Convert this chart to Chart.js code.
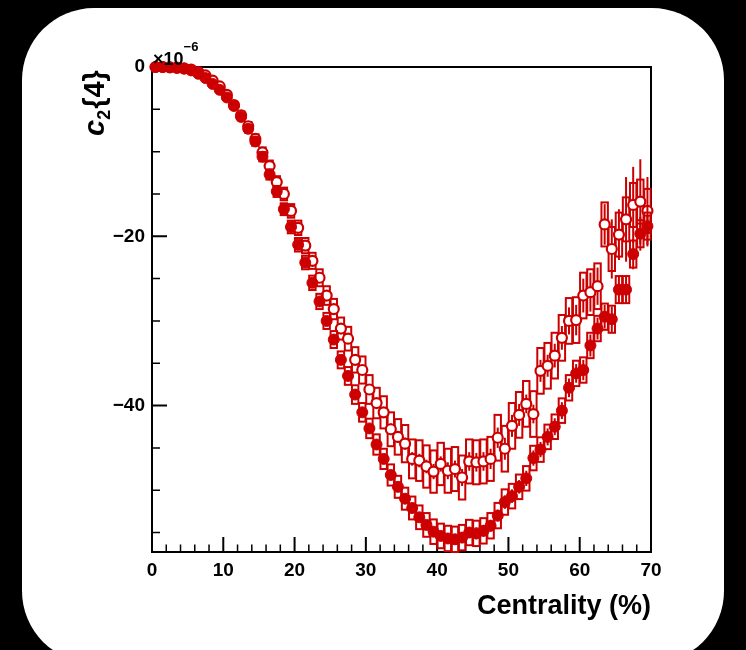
<!DOCTYPE html>
<html>
<head>
<meta charset="utf-8">
<script src="https://cdn.jsdelivr.net/npm/chart.js@4.4.1/dist/chart.umd.min.js"></script>
<style>
  html, body { margin: 0; padding: 0; background: #000; overflow: hidden; }
  #card { position: absolute; left: 22px; top: 8px; width: 702px; height: 655px; background: #fff; border-radius: 72px; }
  #c_chart { position: absolute; left: 0; top: 0; }
</style>
</head>
<body>
<div id="card"></div>
<canvas id="c_chart" width="746" height="650"></canvas>
<script>
// bin centres (centrality %)
const centrality = [
  0.5, 1.5, 2.5, 3.5, 4.5, 5.5, 6.5, 7.5, 8.5, 9.5,
  10.5, 11.5, 12.5, 13.5, 14.5, 15.5, 16.5, 17.5, 18.5, 19.5,
  20.5, 21.5, 22.5, 23.5, 24.5, 25.5, 26.5, 27.5, 28.5, 29.5,
  30.5, 31.5, 32.5, 33.5, 34.5, 35.5, 36.5, 37.5, 38.5, 39.5,
  40.5, 41.5, 42.5, 43.5, 44.5, 45.5, 46.5, 47.5, 48.5, 49.5,
  50.5, 51.5, 52.5, 53.5, 54.5, 55.5, 56.5, 57.5, 58.5, 59.5,
  60.5, 61.5, 62.5, 63.5, 64.5, 65.5, 66.5, 67.5, 68.5, 69.5
];

// c2{4} x 1e6, filled markers
const filledVals = [
  0.0, 0.0, -0.05, -0.1, -0.2, -0.4, -0.8, -1.3, -2.0, -2.7,
  -3.6, -4.6, -5.9, -7.3, -8.8, -10.6, -12.7, -14.7, -16.8, -18.9,
  -21.0, -23.1, -25.5, -27.7, -30.0, -32.2, -34.6, -36.5, -38.7, -40.8,
  -42.7, -44.6, -46.3, -48.2, -49.6, -51.0, -52.1, -53.2, -54.1, -54.9,
  -55.4, -55.7, -55.8, -55.6, -55.0, -55.1, -54.8, -54.2, -53.0, -51.4,
  -50.7, -49.6, -48.6, -46.2, -45.2, -43.7, -42.5, -40.6, -37.9, -36.2,
  -35.8, -32.9, -30.9, -29.5, -29.8, -26.3, -26.3, -22.1, -19.7, -18.8
];
const filledSys = [
  0.05, 0.05, 0.05, 0.05, 0.05, 0.1, 0.1, 0.15, 0.2, 0.25,
  0.3, 0.35, 0.4, 0.45, 0.5, 0.55, 0.6, 0.65, 0.7, 0.75,
  0.8, 0.8, 0.85, 0.9, 0.95, 1.0, 1.0, 1.05, 1.1, 1.1,
  1.15, 1.2, 1.2, 1.25, 1.3, 1.3, 1.35, 1.4, 1.4, 1.45,
  1.45, 1.5, 1.5, 1.5, 1.5, 1.5, 1.5, 1.5, 1.5, 1.5,
  1.45, 1.45, 1.45, 1.45, 1.45, 1.45, 1.45, 1.45, 1.5, 1.5,
  1.5, 1.5, 1.5, 1.55, 1.6, 1.6, 1.6, 1.6, 1.6, 1.6
];
const filledStat = [
  0.0, 0.0, 0.0, 0.0, 0.0, 0.0, 0.0, 0.0, 0.0, 0.0,
  0.1, 0.1, 0.1, 0.1, 0.1, 0.1, 0.1, 0.1, 0.2, 0.2,
  0.2, 0.2, 0.2, 0.2, 0.3, 0.3, 0.3, 0.3, 0.3, 0.3,
  0.4, 0.4, 0.4, 0.4, 0.4, 0.5, 0.5, 0.5, 0.5, 0.5,
  0.6, 0.6, 0.6, 0.6, 0.6, 0.7, 0.7, 0.7, 0.7, 0.8,
  0.8, 0.8, 0.9, 0.9, 0.9, 1.0, 1.0, 1.0, 1.1, 1.1,
  1.2, 1.3, 1.3, 1.4, 1.5, 1.6, 1.7, 1.8, 2.0, 2.4
];

// c2{4} x 1e6, open markers
const openVals = [
  0.0, 0.0, -0.03, -0.08, -0.15, -0.3, -0.6, -1.0, -1.6, -2.3,
  -3.3, -4.5, -5.7, -7.0, -8.5, -10.1, -11.7, -13.6, -15.0, -17.0,
  -19.0, -21.1, -22.9, -24.9, -27.0, -28.6, -30.9, -32.1, -34.6, -35.8,
  -38.1, -39.7, -40.8, -42.8, -43.7, -44.5, -46.3, -46.5, -47.2, -47.8,
  -46.9, -47.7, -47.5, -48.5, -46.6, -46.7, -46.6, -46.3, -43.8, -45.1,
  -42.4, -41.1, -39.8, -41.0, -35.9, -35.3, -34.1, -32.0, -30.0, -29.9,
  -27.0, -26.6, -25.9, -18.6, -21.5, -19.8, -18.0, -16.3, -15.9, -17.0
];
const openSys = [
  0.05, 0.05, 0.05, 0.05, 0.05, 0.1, 0.1, 0.15, 0.2, 0.3,
  0.35, 0.4, 0.45, 0.5, 0.55, 0.6, 0.65, 0.7, 0.75, 0.8,
  0.85, 0.9, 0.95, 1.0, 1.1, 1.2, 1.3, 1.4, 1.5, 1.6,
  1.7, 1.8, 1.9, 2.0, 2.1, 2.2, 2.3, 2.4, 2.5, 2.5,
  2.5, 2.6, 2.6, 2.6, 2.6, 2.6, 2.6, 2.6, 2.7, 2.7,
  2.7, 2.7, 2.7, 2.7, 2.7, 2.7, 2.7, 2.7, 2.7, 2.7,
  2.7, 2.7, 2.7, 2.6, 2.6, 2.6, 2.6, 2.6, 2.6, 2.6
];
const openStat = [
  0.0, 0.0, 0.0, 0.0, 0.0, 0.0, 0.0, 0.0, 0.1, 0.1,
  0.1, 0.1, 0.1, 0.1, 0.2, 0.2, 0.2, 0.2, 0.2, 0.3,
  0.3, 0.3, 0.3, 0.4, 0.4, 0.4, 0.4, 0.5, 0.5, 0.5,
  0.6, 0.6, 0.6, 0.7, 0.7, 0.7, 0.8, 0.8, 0.8, 0.9,
  0.9, 1.0, 1.0, 1.0, 1.1, 1.1, 1.1, 1.2, 1.2, 1.3,
  1.3, 1.3, 1.1, 1.1, 1.3, 1.3, 1.4, 1.4, 1.6, 1.8,
  2.0, 2.3, 2.2, 2.4, 3.5, 3.0, 5.0, 4.5, 5.0, 4.0
];

const xLabelTicks = [0, 10, 20, 30, 40, 50, 60, 70];
const xMinorTicks = [2, 4, 6, 8, 12, 14, 16, 18, 22, 24, 26, 28, 32, 34, 36, 38, 42, 44, 46, 48, 52, 54, 56, 58, 62, 64, 66, 68];
const yLabelTicks = [0, -20, -40];
const yMinorTicks = [-5, -10, -15, -25, -30, -35, -45, -50, -55];

const RED = '#cc0000';
const FONT = "'Liberation Sans', Arial, Helvetica, sans-serif";
const BOX_HALF = 0.45;

function toPoints(vals) {
  return vals.map((v, i) => ({ x: centrality[i], y: v }));
}

// frame and inward ticks, drawn under the markers
const framePlugin = {
  id: 'framePlugin',
  beforeDatasetsDraw(chart) {
    const { ctx, chartArea: a } = chart;
    const xs = chart.scales.x, ys = chart.scales.y;
    ctx.save();
    ctx.strokeStyle = '#000';
    ctx.lineWidth = 2;
    ctx.strokeRect(a.left, a.top, a.right - a.left, a.bottom - a.top);
    ctx.beginPath();
    xLabelTicks.forEach(v => { const p = xs.getPixelForValue(v); ctx.moveTo(p, a.bottom); ctx.lineTo(p, a.bottom - 15); });
    yLabelTicks.forEach(v => { const p = ys.getPixelForValue(v); ctx.moveTo(a.left, p); ctx.lineTo(a.left + 15, p); });
    ctx.stroke();
    ctx.lineWidth = 1.5;
    ctx.beginPath();
    xMinorTicks.forEach(v => { const p = xs.getPixelForValue(v); ctx.moveTo(p, a.bottom); ctx.lineTo(p, a.bottom - 7.5); });
    yMinorTicks.forEach(v => { const p = ys.getPixelForValue(v); ctx.moveTo(a.left, p); ctx.lineTo(a.left + 8, p); });
    ctx.stroke();
    ctx.restore();
  }
};

// systematic boxes + statistical bars, one dataset at a time
const errorPlugin = {
  id: 'errorPlugin',
  beforeDatasetDraw(chart, args) {
    const ds = chart.data.datasets[args.index];
    const xs = chart.scales.x, ys = chart.scales.y;
    const ctx = chart.ctx;
    ctx.save();
    ctx.strokeStyle = RED;
    ds.data.forEach((p, i) => {
      const l = xs.getPixelForValue(p.x - BOX_HALF), r = xs.getPixelForValue(p.x + BOX_HALF);
      const t = ys.getPixelForValue(p.y + ds.sys[i]), b = ys.getPixelForValue(p.y - ds.sys[i]);
      ctx.lineWidth = 2;
      ctx.strokeRect(l, t, r - l, b - t);
      if (ds.stat[i] > 0) {
        const cx = xs.getPixelForValue(p.x);
        ctx.lineWidth = 2;
        ctx.beginPath();
        ctx.moveTo(cx, ys.getPixelForValue(p.y + ds.stat[i]));
        ctx.lineTo(cx, ys.getPixelForValue(p.y - ds.stat[i]));
        ctx.stroke();
      }
    });
    ctx.restore();
  }
};

// y title c_2{4} and the x10^-6 multiplier
const textPlugin = {
  id: 'textPlugin',
  afterDraw(chart) {
    const ctx = chart.ctx;
    const a = chart.chartArea;
    ctx.save();
    ctx.fillStyle = '#000';
    ctx.textBaseline = 'alphabetic';
    ctx.textAlign = 'left';

    ctx.font = 'bold 18px ' + FONT;
    ctx.fillText('×10', a.left + 1, a.top - 2);
    const w10 = ctx.measureText('×10').width;
    ctx.font = 'bold 13px ' + FONT;
    ctx.fillText('−6', a.left + 1 + w10, a.top - 16);

    ctx.translate(104, 136);
    ctx.rotate(-Math.PI / 2);
    ctx.font = 'bold italic 29px ' + FONT;
    ctx.fillText('c', 0, 0);
    let off = ctx.measureText('c').width;
    ctx.font = 'bold 18px ' + FONT;
    ctx.fillText('2', off, 6);
    off += ctx.measureText('2').width + 1;
    ctx.font = 'bold 29px ' + FONT;
    ctx.fillText('{4}', off, 0);
    ctx.restore();
  }
};

const ctx = document.getElementById('c_chart').getContext('2d');

new Chart(ctx, {
  type: 'scatter',
  data: {
    datasets: [
      {
        label: 'filled',
        data: toPoints(filledVals),
        sys: filledSys,
        stat: filledStat,
        pointRadius: 5.5,
        pointBackgroundColor: RED,
        pointBorderColor: RED,
        pointBorderWidth: 1,
        clip: false
      },
      {
        label: 'open',
        data: toPoints(openVals),
        sys: openSys,
        stat: openStat,
        pointRadius: 5,
        pointBackgroundColor: '#fff',
        pointBorderColor: RED,
        pointBorderWidth: 2.2,
        clip: false
      }
    ]
  },
  options: {
    responsive: false,
    animation: false,
    events: [],
    layout: { padding: { left: 0, top: 67, right: 95, bottom: 0 } },
    plugins: { legend: { display: false }, tooltip: { enabled: false } },
    scales: {
      x: {
        type: 'linear',
        min: 0,
        max: 70,
        afterFit: (s) => { s.height = 98; },
        afterBuildTicks: (s) => { s.ticks = xLabelTicks.map(v => ({ value: v })); },
        grid: { display: false, drawTicks: false },
        border: { display: false },
        ticks: { color: '#000', padding: 7, maxRotation: 0, font: { family: FONT, size: 19, weight: 'bold' } },
        title: {
          display: true,
          text: 'Centrality (%)',
          align: 'end',
          color: '#000',
          font: { family: FONT, size: 27, weight: 'bold' },
          padding: { top: 0, bottom: 27 }
        }
      },
      y: {
        type: 'linear',
        min: -57.3,
        max: 0,
        afterFit: (s) => { s.width = 152; },
        afterBuildTicks: (s) => { s.ticks = yLabelTicks.map(v => ({ value: v })); },
        grid: { display: false, drawTicks: false },
        border: { display: false },
        ticks: {
          color: '#000',
          padding: 7,
          font: { family: FONT, size: 19, weight: 'bold' },
          callback: (v) => v === 0 ? '0' : '−' + Math.abs(v)
        }
      }
    }
  },
  plugins: [framePlugin, errorPlugin, textPlugin]
});
</script>
</body>
</html>
